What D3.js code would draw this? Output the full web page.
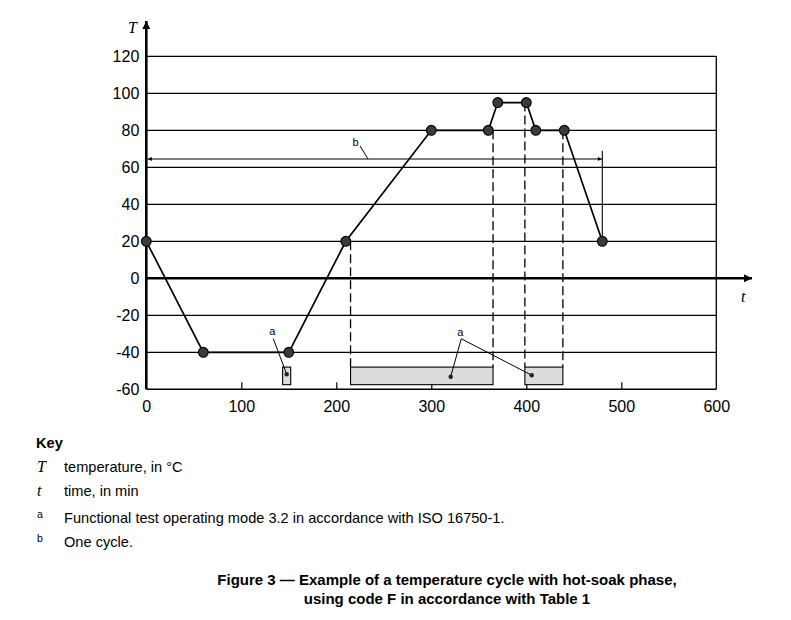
<!DOCTYPE html>
<html>
<head>
<meta charset="utf-8">
<script src="https://cdn.jsdelivr.net/npm/d3@7"></script>
<style>
  body { margin: 0; background: #fff; }
  svg { display: block; }
  text { font-family: "Liberation Sans", Arial, sans-serif; fill: #000; }
  .serif { font-family: "Liberation Serif", "Times New Roman", serif; font-style: italic; }
</style>
</head>
<body>
<svg id="chart" width="791" height="620"></svg>
<script>
// ---- data ----
const cycleTime = [0, 60, 150, 210, 300, 360, 370, 400, 410, 440, 480];
const cycleTemp = [20, -40, -40, 20, 80, 80, 95, 95, 80, 80, 20];
const xTicks = [0, 100, 200, 300, 400, 500, 600];
const yTicks = [-60, -40, -20, 0, 20, 40, 60, 80, 100, 120];
const gridValues = [-40, -20, 20, 40, 60, 80, 100, 120];
// functional test windows (time start, time end, temp top, temp bottom)
const testStart = [143.5, 215, 398.5];
const testEnd = [152, 365, 438.5];
const testTop = [-48, -48, -48];
const testBottom = [-57.5, -57.5, -57.5];
// dashed markers (time, temperature where dash starts)
const dashTime = [215, 365, 398.5, 438.5];
const dashFrom = [20, 80, 95, 80];
// annotation "a"
const aLabelLeft = [132.6, -28.8];
const aDotsLeft = [[147.8, -51.9]];
const aLabelRight = [330.5, -28.9];
const aDotsRight = [[320.4, -53.2], [405.7, -52.4]];
// annotation "b"
const bLabel = [220.4, 73.8];
const bLeaderFrom = [225, 71.5];
const bLeaderTo = [233.4, 64.5];
const bArrowTemp = 64.5;
const bArrowStart = 0;
const bArrowEnd = 480;
const bVertTop = 69;
const keySymbols = ["T", "t", "a", "b"];
const keyTexts = ["temperature, in °C", "time, in min",
  "Functional test operating mode 3.2 in accordance with ISO 16750-1.", "One cycle."];
const captionLines = ["Figure 3 — Example of a temperature cycle with hot-soak phase,",
  "using code F in accordance with Table 1"];

// ---- scales ----
const svg = d3.select("#chart");
const x = d3.scaleLinear().domain([0, 600]).range([146.3, 716.3]);
const y = d3.scaleLinear().domain([-60, 120]).range([389.3, 56.3]);

// markers
const defs = svg.append("defs");
defs.append("marker").attr("id", "bigArrow").attr("viewBox", "0 0 10 10")
  .attr("refX", 10).attr("refY", 5).attr("markerWidth", 14).attr("markerHeight", 8)
  .attr("markerUnits", "userSpaceOnUse").attr("orient", "auto")
  .append("path").attr("d", "M0,0 L10,5 L0,10 Z").attr("fill", "#000");
defs.append("marker").attr("id", "smallArrow").attr("viewBox", "0 0 10 10")
  .attr("refX", 10).attr("refY", 5).attr("markerWidth", 9).attr("markerHeight", 4)
  .attr("markerUnits", "userSpaceOnUse").attr("orient", "auto-start-reverse")
  .append("path").attr("d", "M0,0 L10,5 L0,10 Z").attr("fill", "#000");

// grid lines
svg.append("g").selectAll("line").data(gridValues).join("line")
  .attr("x1", x(0)).attr("x2", x(600))
  .attr("y1", d => y(d)).attr("y2", d => y(d))
  .attr("stroke", "#000").attr("stroke-width", 1.3);

// bottom border & right border
svg.append("line").attr("x1", x(0)).attr("x2", x(600)).attr("y1", y(-60)).attr("y2", y(-60))
  .attr("stroke", "#000").attr("stroke-width", 1.6);
svg.append("line").attr("x1", x(600)).attr("x2", x(600)).attr("y1", y(120)).attr("y2", y(-60))
  .attr("stroke", "#000").attr("stroke-width", 1.3);

const fmt = d => String(d);

// x axis ticks/labels
const xAxis = svg.append("g").attr("transform", `translate(0,${y(-60)})`)
  .call(d3.axisBottom(x).tickValues(xTicks).tickSize(-7).tickPadding(11).tickFormat(fmt));
xAxis.select(".domain").remove();
xAxis.selectAll(".tick line").attr("stroke", "#000").attr("stroke-width", 1.2)
  .attr("display", d => (d === 0 || d === 600) ? "none" : null);
xAxis.selectAll("text").attr("font-size", 16).attr("font-family", "Liberation Sans, Arial, sans-serif");

// y axis labels
const yAxis = svg.append("g").attr("transform", `translate(${x(0)},0)`)
  .call(d3.axisLeft(y).tickValues(yTicks).tickSize(0).tickPadding(7).tickFormat(fmt));
yAxis.select(".domain").remove();
yAxis.selectAll("text").attr("font-size", 16).attr("font-family", "Liberation Sans, Arial, sans-serif");

// test windows
svg.append("g").selectAll("rect").data(testStart).join("rect")
  .attr("x", (d, i) => x(d)).attr("width", (d, i) => x(testEnd[i]) - x(d))
  .attr("y", (d, i) => y(testTop[i])).attr("height", (d, i) => y(testBottom[i]) - y(testTop[i]))
  .attr("fill", "#dcdcdc").attr("stroke", "#000").attr("stroke-width", 1.1);

// dashed lines
svg.append("g").selectAll("line").data(dashTime).join("line")
  .attr("x1", d => x(d)).attr("x2", d => x(d))
  .attr("y1", (d, i) => y(dashFrom[i])).attr("y2", y(-48))
  .attr("stroke", "#000").attr("stroke-width", 1.3).attr("stroke-dasharray", "9,4");

// zero axis with arrow
svg.append("line").attr("x1", x(0)).attr("x2", 752).attr("y1", y(0)).attr("y2", y(0))
  .attr("stroke", "#000").attr("stroke-width", 2.6).attr("marker-end", "url(#bigArrow)");
// vertical axis with arrow
svg.append("line").attr("x1", x(0)).attr("x2", x(0)).attr("y1", y(-60)).attr("y2", 21)
  .attr("stroke", "#000").attr("stroke-width", 2.6).attr("marker-end", "url(#bigArrow)");

// axis labels
svg.append("text").attr("class", "serif").attr("x", 128).attr("y", 33).attr("font-size", 16).text("T");
svg.append("text").attr("class", "serif").attr("x", 741).attr("y", 302).attr("font-size", 16).text("t");

// cycle arrow "b"
svg.append("line").attr("x1", x(bArrowStart) + 1.5).attr("x2", x(bArrowEnd) - 0.5)
  .attr("y1", y(bArrowTemp)).attr("y2", y(bArrowTemp))
  .attr("stroke", "#000").attr("stroke-width", 1.1)
  .attr("marker-start", "url(#smallArrow)").attr("marker-end", "url(#smallArrow)");
svg.append("line").attr("x1", x(bArrowEnd)).attr("x2", x(bArrowEnd))
  .attr("y1", y(bVertTop)).attr("y2", y(20))
  .attr("stroke", "#000").attr("stroke-width", 1.1);
svg.append("line").attr("x1", x(bLeaderFrom[0])).attr("y1", y(bLeaderFrom[1]))
  .attr("x2", x(bLeaderTo[0])).attr("y2", y(bLeaderTo[1]))
  .attr("stroke", "#000").attr("stroke-width", 1);
svg.append("text").attr("x", x(bLabel[0])).attr("y", y(bLabel[1])).attr("dy", "0.35em")
  .attr("text-anchor", "middle").attr("font-size", 11).text("b");

// cycle line
const line = d3.line().x(d => x(d[0])).y(d => y(d[1]));
const pts = cycleTime.map((t, i) => [t, cycleTemp[i]]);
svg.append("path").datum(pts).attr("d", line).attr("fill", "none")
  .attr("stroke", "#000").attr("stroke-width", 1.7);
svg.append("g").selectAll("circle").data(pts).join("circle")
  .attr("cx", d => x(d[0])).attr("cy", d => y(d[1])).attr("r", 4.9)
  .attr("fill", "#3a3a3a").attr("stroke", "#000").attr("stroke-width", 1.1);

// annotation "a"
function annot(label, dots) {
  const lx = x(label[0]), ly = y(label[1]);
  svg.append("text").attr("x", lx).attr("y", ly).attr("dy", "0.35em")
    .attr("text-anchor", "middle").attr("font-size", 11).text("a");
  dots.forEach(d => {
    svg.append("line").attr("x1", lx + 1).attr("y1", ly + 7)
      .attr("x2", x(d[0])).attr("y2", y(d[1])).attr("stroke", "#000").attr("stroke-width", 1);
    svg.append("circle").attr("cx", x(d[0])).attr("cy", y(d[1])).attr("r", 2.2).attr("fill", "#222");
  });
}
annot(aLabelLeft, aDotsLeft);
annot(aLabelRight, aDotsRight);

// key
svg.append("text").attr("x", 36).attr("y", 448).attr("font-size", 14.6).attr("font-weight", "bold").text("Key");
const keyY = [472, 496, 523, 547];
keySymbols.forEach((s, i) => {
  const sym = svg.append("text").attr("x", 37).attr("font-size", i < 2 ? 16 : 10.5).text(s);
  if (i < 2) sym.attr("class", "serif").attr("y", keyY[i]);
  else sym.attr("y", keyY[i] - 5);
  svg.append("text").attr("x", 64).attr("y", keyY[i]).attr("font-size", 14.6).text(keyTexts[i]);
});

// caption
captionLines.forEach((c, i) => {
  svg.append("text").attr("x", 447).attr("y", 585 + i * 19).attr("text-anchor", "middle")
    .attr("font-size", 15).attr("font-weight", "bold").text(c);
});
</script>
</body>
</html>
